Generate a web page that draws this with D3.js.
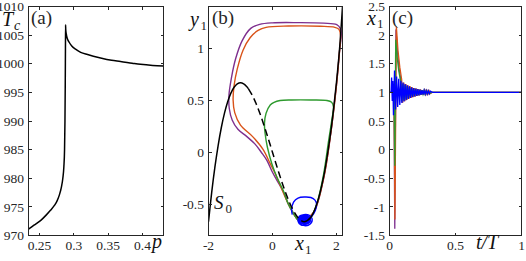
<!DOCTYPE html>
<html>
<head>
<meta charset="utf-8">
<script src="https://cdn.jsdelivr.net/npm/d3@7"></script>
<style>
body { margin: 0; background: #fff; }
svg .axis line, svg .axis rect { stroke: #262626; stroke-width: 1; fill: none; shape-rendering: crispEdges; }
</style>
</head>
<body>
<svg id="fig" width="526" height="261"></svg>
<script>
// ---- panel (a): Tc against p ----
var pVals  = [0.2340, 0.2420, 0.2515, 0.2600, 0.2660, 0.2720, 0.2758, 0.2790, 0.2820, 0.2840, 0.2855,
              0.2865, 0.2871, 0.2875, 0.2878, 0.2880, 0.2882, 0.2890, 0.2905, 0.2930, 0.2970, 0.3030,
              0.3100, 0.3200, 0.3390, 0.3550, 0.3680, 0.3850, 0.3970, 0.4150, 0.4306];
var tcVals = [971.1, 971.8, 972.6, 973.6, 974.4, 975.3, 976.1, 977.1, 978.5, 980.0, 982.0,
              985.0, 990.0, 996.0, 1002.5, 1006.8, 1006.0, 1005.2, 1004.4, 1003.8, 1003.1, 1002.5,
              1002.0, 1001.6, 1001.0, 1000.6, 1000.4, 1000.1, 999.9, 999.7, 999.6];
var aXTicks = [0.25, 0.3, 0.35, 0.4];
var aXLabels = ['0.25', '0.3', '0.35', '0.4'];
var aYTicks = [970, 975, 980, 985, 990, 995, 1000, 1005, 1010];
var aYLabels = ['970', '975', '980', '985', '990', '995', '1000', '1005', '1010'];

// ---- panel (b): phase plane (x1, y1) ----
var s0Left = [[-2.0, -0.667], [-1.9, -0.386], [-1.8, -0.144], [-1.7, 0.062], [-1.6, 0.235], [-1.5, 0.375],
              [-1.4, 0.485], [-1.3, 0.568], [-1.2, 0.624], [-1.1, 0.656], [-1.0, 0.667], [-0.9, 0.657],
              [-0.8, 0.629], [-0.75, 0.609]];
var s0Middle = [[-0.75, 0.609], [-0.6, 0.528], [-0.4, 0.379], [-0.2, 0.197], [0, 0], [0.2, -0.197],
                [0.4, -0.379], [0.6, -0.528], [0.8, -0.629], [0.9, -0.657]];
var s0Right = [[0.9, -0.657], [1.0, -0.667], [1.2, -0.624], [1.4, -0.485], [1.6, -0.235], [1.8, 0.144],
               [1.9, 0.386], [2.0, 0.667], [2.1, 1.0], [2.19, 1.4]];
var purplePath = [[1.0, -0.66], [1.3, -0.57], [1.6, -0.25], [1.8, 0.13], [2.0, 0.64], [2.1, 0.98], [2.15, 1.13],
                  [2.12, 1.19], [2.01, 1.226], [1.6, 1.24], [0.8, 1.245], [0, 1.243], [-0.4, 1.228],
                  [-0.68, 1.19], [-0.95, 1.07], [-1.15, 0.9], [-1.28, 0.72], [-1.36, 0.55], [-1.35, 0.42],
                  [-1.26, 0.31], [-1.08, 0.22], [-0.8, 0.15], [-0.55, 0.08], [-0.35, 0.0], [-0.17, -0.08],
                  [-0.02, -0.18], [0.14, -0.27], [0.34, -0.38], [0.5, -0.5], [0.66, -0.59], [0.81, -0.655],
                  [0.97, -0.68], [1.0, -0.66]];
var orangePath = [[1.0, -0.66], [1.3, -0.57], [1.6, -0.25], [1.8, 0.13], [2.0, 0.64], [2.1, 0.98], [2.13, 1.12],
                  [2.08, 1.18], [1.95, 1.2], [1.5, 1.21], [0.5, 1.212], [-0.2, 1.2], [-0.45, 1.17],
                  [-0.7, 1.1], [-0.92, 0.98], [-1.1, 0.8], [-1.2, 0.64], [-1.23, 0.5], [-1.18, 0.38],
                  [-1.0, 0.26], [-0.62, 0.15], [-0.3, 0.03], [-0.07, -0.11], [0.085, -0.205],
                  [0.3, -0.36], [0.5, -0.5], [0.66, -0.59], [0.81, -0.655], [0.97, -0.68], [1.0, -0.66]];
var greenPath = [[1.0, -0.67], [1.2, -0.63], [1.4, -0.48], [1.6, -0.21], [1.75, 0.1], [1.85, 0.3], [1.906, 0.438],
                 [1.85, 0.48], [1.70, 0.497], [1.2, 0.502], [0.6, 0.502], [0.24, 0.497], [0.05, 0.48],
                 [-0.07, 0.454], [-0.2, 0.374], [-0.25, 0.276], [-0.23, 0.18], [-0.16, 0.05], [-0.02, -0.11],
                 [0.14, -0.24], [0.34, -0.37], [0.5, -0.5], [0.66, -0.59], [0.81, -0.656], [0.97, -0.68],
                 [1.05, -0.67]];
var bluePath = [[0.62, -0.6], [0.6, -0.55], [0.66, -0.48], [0.8, -0.44], [1.0, -0.43], [1.2, -0.435],
                [1.33, -0.46], [1.38, -0.5], [1.34, -0.56], [1.24, -0.61], [1.12, -0.64], [1.05, -0.69],
                [0.9, -0.70], [0.8, -0.665], [0.84, -0.615], [0.98, -0.6], [1.14, -0.605], [1.24, -0.64],
                [1.18, -0.69], [1.0, -0.705], [0.86, -0.68], [0.85, -0.63], [1.0, -0.61], [1.15, -0.625],
                [1.17, -0.665], [1.02, -0.69], [0.9, -0.665], [0.93, -0.625], [1.08, -0.625], [1.1, -0.66],
                [0.98, -0.67], [0.95, -0.645], [1.03, -0.64]];
var blueCore = {x: 1.02, y: -0.652, rx: 0.19, ry: 0.045};
var bXTicks = [-2, 0, 2];
var bXLabels = ['-2', '0', '2'];
var bYTicks = [-0.5, 0, 0.5, 1];
var bYLabels = ['-0.5', '0', '0.5', '1'];

// ---- panel (c): x1 against t/T ----
var tPurple = [0, 0.030, 0.034, 0.040, 0.049, 0.060, 0.072, 0.086,
               0.098, 0.106, 0.114, 0.122, 0.130, 0.138, 0.146, 0.154, 0.162, 0.170, 0.178, 0.186, 0.194,
               0.202, 0.210, 0.218, 0.226, 0.234, 0.242, 0.250, 0.258, 0.266, 0.274, 0.282, 0.290, 0.298,
               0.306, 0.320, 1];
var xPurple = [1, 1, 0.9, -1.38, 2.1, 1.72, 1.42, 1.22,
               0.83, 1.16, 0.85, 1.14, 0.87, 1.12, 0.89, 1.10, 0.905, 1.085, 0.92, 1.074, 0.93,
               1.063, 0.94, 1.054, 0.95, 1.046, 0.958, 1.04, 0.964, 1.033, 0.97, 1.028, 0.975, 1.024,
               0.98, 1, 1];
var tOrange = [0, 0.030, 0.035, 0.041, 0.052, 0.064, 0.078, 0.092,
               0.100, 0.108, 0.116, 0.124, 0.132, 0.140, 0.148, 0.156, 0.164, 0.172, 0.180, 0.188, 0.196,
               0.204, 0.212, 0.220, 0.228, 0.236, 0.244, 0.252, 0.260, 0.268, 0.276, 0.284, 0.292, 0.300,
               0.308, 0.322, 1];
var xOrange = [1, 1, 0.9, -1.22, 2.15, 1.74, 1.44, 1.23,
               0.82, 1.17, 0.845, 1.145, 0.868, 1.122, 0.888, 1.104, 0.904, 1.088, 0.918, 1.076, 0.93,
               1.065, 0.94, 1.055, 0.949, 1.047, 0.957, 1.04, 0.963, 1.034, 0.969, 1.029, 0.974, 1.024,
               0.979, 1, 1];
var tGreen = [0, 0.030, 0.035, 0.040, 0.047, 0.058, 0.070, 0.084,
              0.094, 0.102, 0.110, 0.118, 0.126, 0.134, 0.142, 0.150, 0.158, 0.166, 0.174, 0.182, 0.190,
              0.198, 0.206, 0.214, 0.222, 0.230, 0.238, 0.246, 0.254, 0.262, 0.270, 0.278, 0.286, 0.294,
              0.302, 0.318, 1];
var xGreen = [1, 1, 0.95, -0.28, 1.92, 1.62, 1.38, 1.2,
              0.84, 1.15, 0.86, 1.13, 0.88, 1.11, 0.895, 1.095, 0.91, 1.082, 0.922, 1.07, 0.934,
              1.06, 0.944, 1.051, 0.952, 1.044, 0.96, 1.038, 0.966, 1.032, 0.971, 1.027, 0.976, 1.022,
              0.98, 1, 1];
var tBlue = [0, 0.012, 0.016, 0.021, 0.025, 0.030, 0.038,
             0.046, 0.054, 0.062, 0.070, 0.078, 0.086, 0.094, 0.102, 0.110, 0.118, 0.126, 0.134, 0.142,
             0.150, 0.158, 0.166, 0.174, 0.182, 0.190, 0.198, 0.206, 0.214, 0.222, 0.230, 0.238, 0.246,
             0.254, 0.262, 0.270, 0.278, 0.286, 0.294, 0.302, 0.310, 0.325, 1];
var xBlue = [1, 1, 1.26, 0.85, 1.2, 0.6, 1.38,
             0.70, 1.277, 0.744, 1.236, 0.782, 1.201, 0.814, 1.171, 0.842, 1.146, 0.865, 1.124, 0.885,
             1.106, 0.902, 1.090, 0.917, 1.077, 0.929, 1.066, 0.939, 1.056, 0.948, 1.048, 0.956, 1.041,
             0.962, 1.035, 0.968, 1.030, 0.973, 1.025, 0.977, 1.021, 1, 1];
var cXTicks = [0, 0.5, 1];
var cXLabels = ['0', '0.5', '1'];
var cYTicks = [-1.5, -1, -0.5, 0, 0.5, 1, 1.5, 2, 2.5];
var cYLabels = ['-1.5', '-1', '-0.5', '0', '0.5', '1', '1.5', '2', '2.5'];

var colors = {purple: '#7E2F8E', orange: '#D95319', green: '#2E9A2E', blue: '#0000FF'};
var serif = "'Liberation Serif'";

var svg = d3.select('#fig');
var tickLen = 3;

/**
 * Make scales and a clipped group for one panel.
 */
function makePanel(box, xDomain, yDomain, id) {
    var x = d3.scaleLinear().domain(xDomain).range([box.left, box.right]);
    var y = d3.scaleLinear().domain(yDomain).range([box.bottom, box.top]);
    svg.append('clipPath').attr('id', id).append('rect')
        .attr('x', box.left).attr('y', box.top)
        .attr('width', box.right - box.left).attr('height', box.bottom - box.top);
    var plot = svg.append('g').attr('clip-path', 'url(#' + id + ')');
    return {x: x, y: y, box: box, plot: plot};
}

function text(parent, txt, x, y, size, italic) {
    return parent.append('text').attr('x', x).attr('y', y)
        .style('font-family', serif).style('font-size', size + 'px')
        .style('font-style', italic ? 'italic' : 'normal')
        .style('fill', italic ? '#111' : '#262626')
        .text(txt);
}

/**
 * Box, inward ticks on all four sides and tick labels.
 */
function drawFrame(p, xTicks, xLabels, yTicks, yLabels) {
    var b = p.box;
    var g = svg.append('g').attr('class', 'axis');
    xTicks.forEach(function(v, i) {
        var px = p.x(v);
        g.append('line').attr('x1', px).attr('x2', px).attr('y1', b.bottom).attr('y2', b.bottom - tickLen);
        g.append('line').attr('x1', px).attr('x2', px).attr('y1', b.top).attr('y2', b.top + tickLen);
        text(g, xLabels[i], px, 250, 13.5).attr('text-anchor', 'middle');
    });
    yTicks.forEach(function(v, i) {
        var py = p.y(v);
        g.append('line').attr('x1', b.left).attr('x2', b.left + tickLen).attr('y1', py).attr('y2', py);
        g.append('line').attr('x1', b.right).attr('x2', b.right - tickLen).attr('y1', py).attr('y2', py);
        text(g, yLabels[i], b.left - 4.5, py, 13.5).attr('dy', '0.35em').attr('text-anchor', 'end');
    });
    g.append('rect').attr('x', b.left).attr('y', b.top)
        .attr('width', b.right - b.left).attr('height', b.bottom - b.top);
}

function pairLine(p, curve) {
    return d3.line().x(function(d) { return p.x(d[0]); }).y(function(d) { return p.y(d[1]); }).curve(curve);
}

// ---------- (a) ----------
var pa = makePanel({left: 28.5, right: 163.5, top: 6.5, bottom: 235.5}, [0.234, 0.4306], [970, 1010], 'clipA');
pa.plot.append('path')
    .datum(d3.zip(pVals, tcVals))
    .attr('d', pairLine(pa, d3.curveMonotoneX))
    .attr('fill', 'none').attr('stroke', '#000').attr('stroke-width', 1.5);
drawFrame(pa, aXTicks, aXLabels, aYTicks, aYLabels);
text(svg, 'T', 2, 26, 20, true);
text(svg, 'c', 14, 30, 14, true);
text(svg, 'p', 152, 248, 20, true);
text(svg, '(a)', 31, 24, 19);

// ---------- (b) ----------
var pb = makePanel({left: 208.5, right: 342.5, top: 6.5, bottom: 235.5}, [-2, 2.19], [-0.8, 1.4], 'clipB');
var smooth = d3.curveCatmullRom.alpha(0.5);
[[purplePath, colors.purple], [orangePath, colors.orange], [greenPath, colors.green], [bluePath, colors.blue]]
    .forEach(function(s) {
        pb.plot.append('path').datum(s[0]).attr('d', pairLine(pb, smooth))
            .attr('fill', 'none').attr('stroke', s[1]).attr('stroke-width', 1.4);
    });
pb.plot.append('ellipse')
    .attr('cx', pb.x(blueCore.x)).attr('cy', pb.y(blueCore.y))
    .attr('rx', pb.x(blueCore.x + blueCore.rx) - pb.x(blueCore.x))
    .attr('ry', pb.y(blueCore.y - blueCore.ry) - pb.y(blueCore.y))
    .attr('fill', colors.blue);
pb.plot.append('path').datum(s0Middle).attr('d', pairLine(pb, smooth))
    .attr('fill', 'none').attr('stroke', '#000').attr('stroke-width', 1.5).attr('stroke-dasharray', '7,4');
[s0Left, s0Right].forEach(function(s) {
    pb.plot.append('path').datum(s).attr('d', pairLine(pb, smooth))
        .attr('fill', 'none').attr('stroke', '#000').attr('stroke-width', 1.5);
});
drawFrame(pb, bXTicks, bXLabels, bYTicks, bYLabels);
text(svg, 'y', 190, 26, 20, true);
text(svg, '1', 200.5, 29.5, 13);
text(svg, 'x', 295, 250, 20, true);
text(svg, '1', 305, 254, 13);
text(svg, 'S', 214, 209, 19, true);
text(svg, '0', 225.5, 213, 13);
text(svg, '(b)', 212, 24, 19);

// ---------- (c) ----------
var pc = makePanel({left: 389.5, right: 521.5, top: 6.5, bottom: 235.5}, [0, 1], [-1.5, 2.5], 'clipC');
[[tPurple, xPurple, colors.purple], [tOrange, xOrange, colors.orange],
 [tGreen, xGreen, colors.green], [tBlue, xBlue, colors.blue]].forEach(function(s) {
    pc.plot.append('path').datum(d3.zip(s[0], s[1])).attr('d', pairLine(pc, d3.curveLinear))
        .attr('fill', 'none').attr('stroke', s[2]).attr('stroke-width', 1.3);
});
drawFrame(pc, cXTicks, cXLabels, cYTicks, cYLabels);
text(svg, 'x', 367, 25, 20, true);
text(svg, '1', 377, 28, 13);
text(svg, 't/T', 476, 249, 20, true);
text(svg, '(c)', 392, 24, 19);
</script>
</body>
</html>
